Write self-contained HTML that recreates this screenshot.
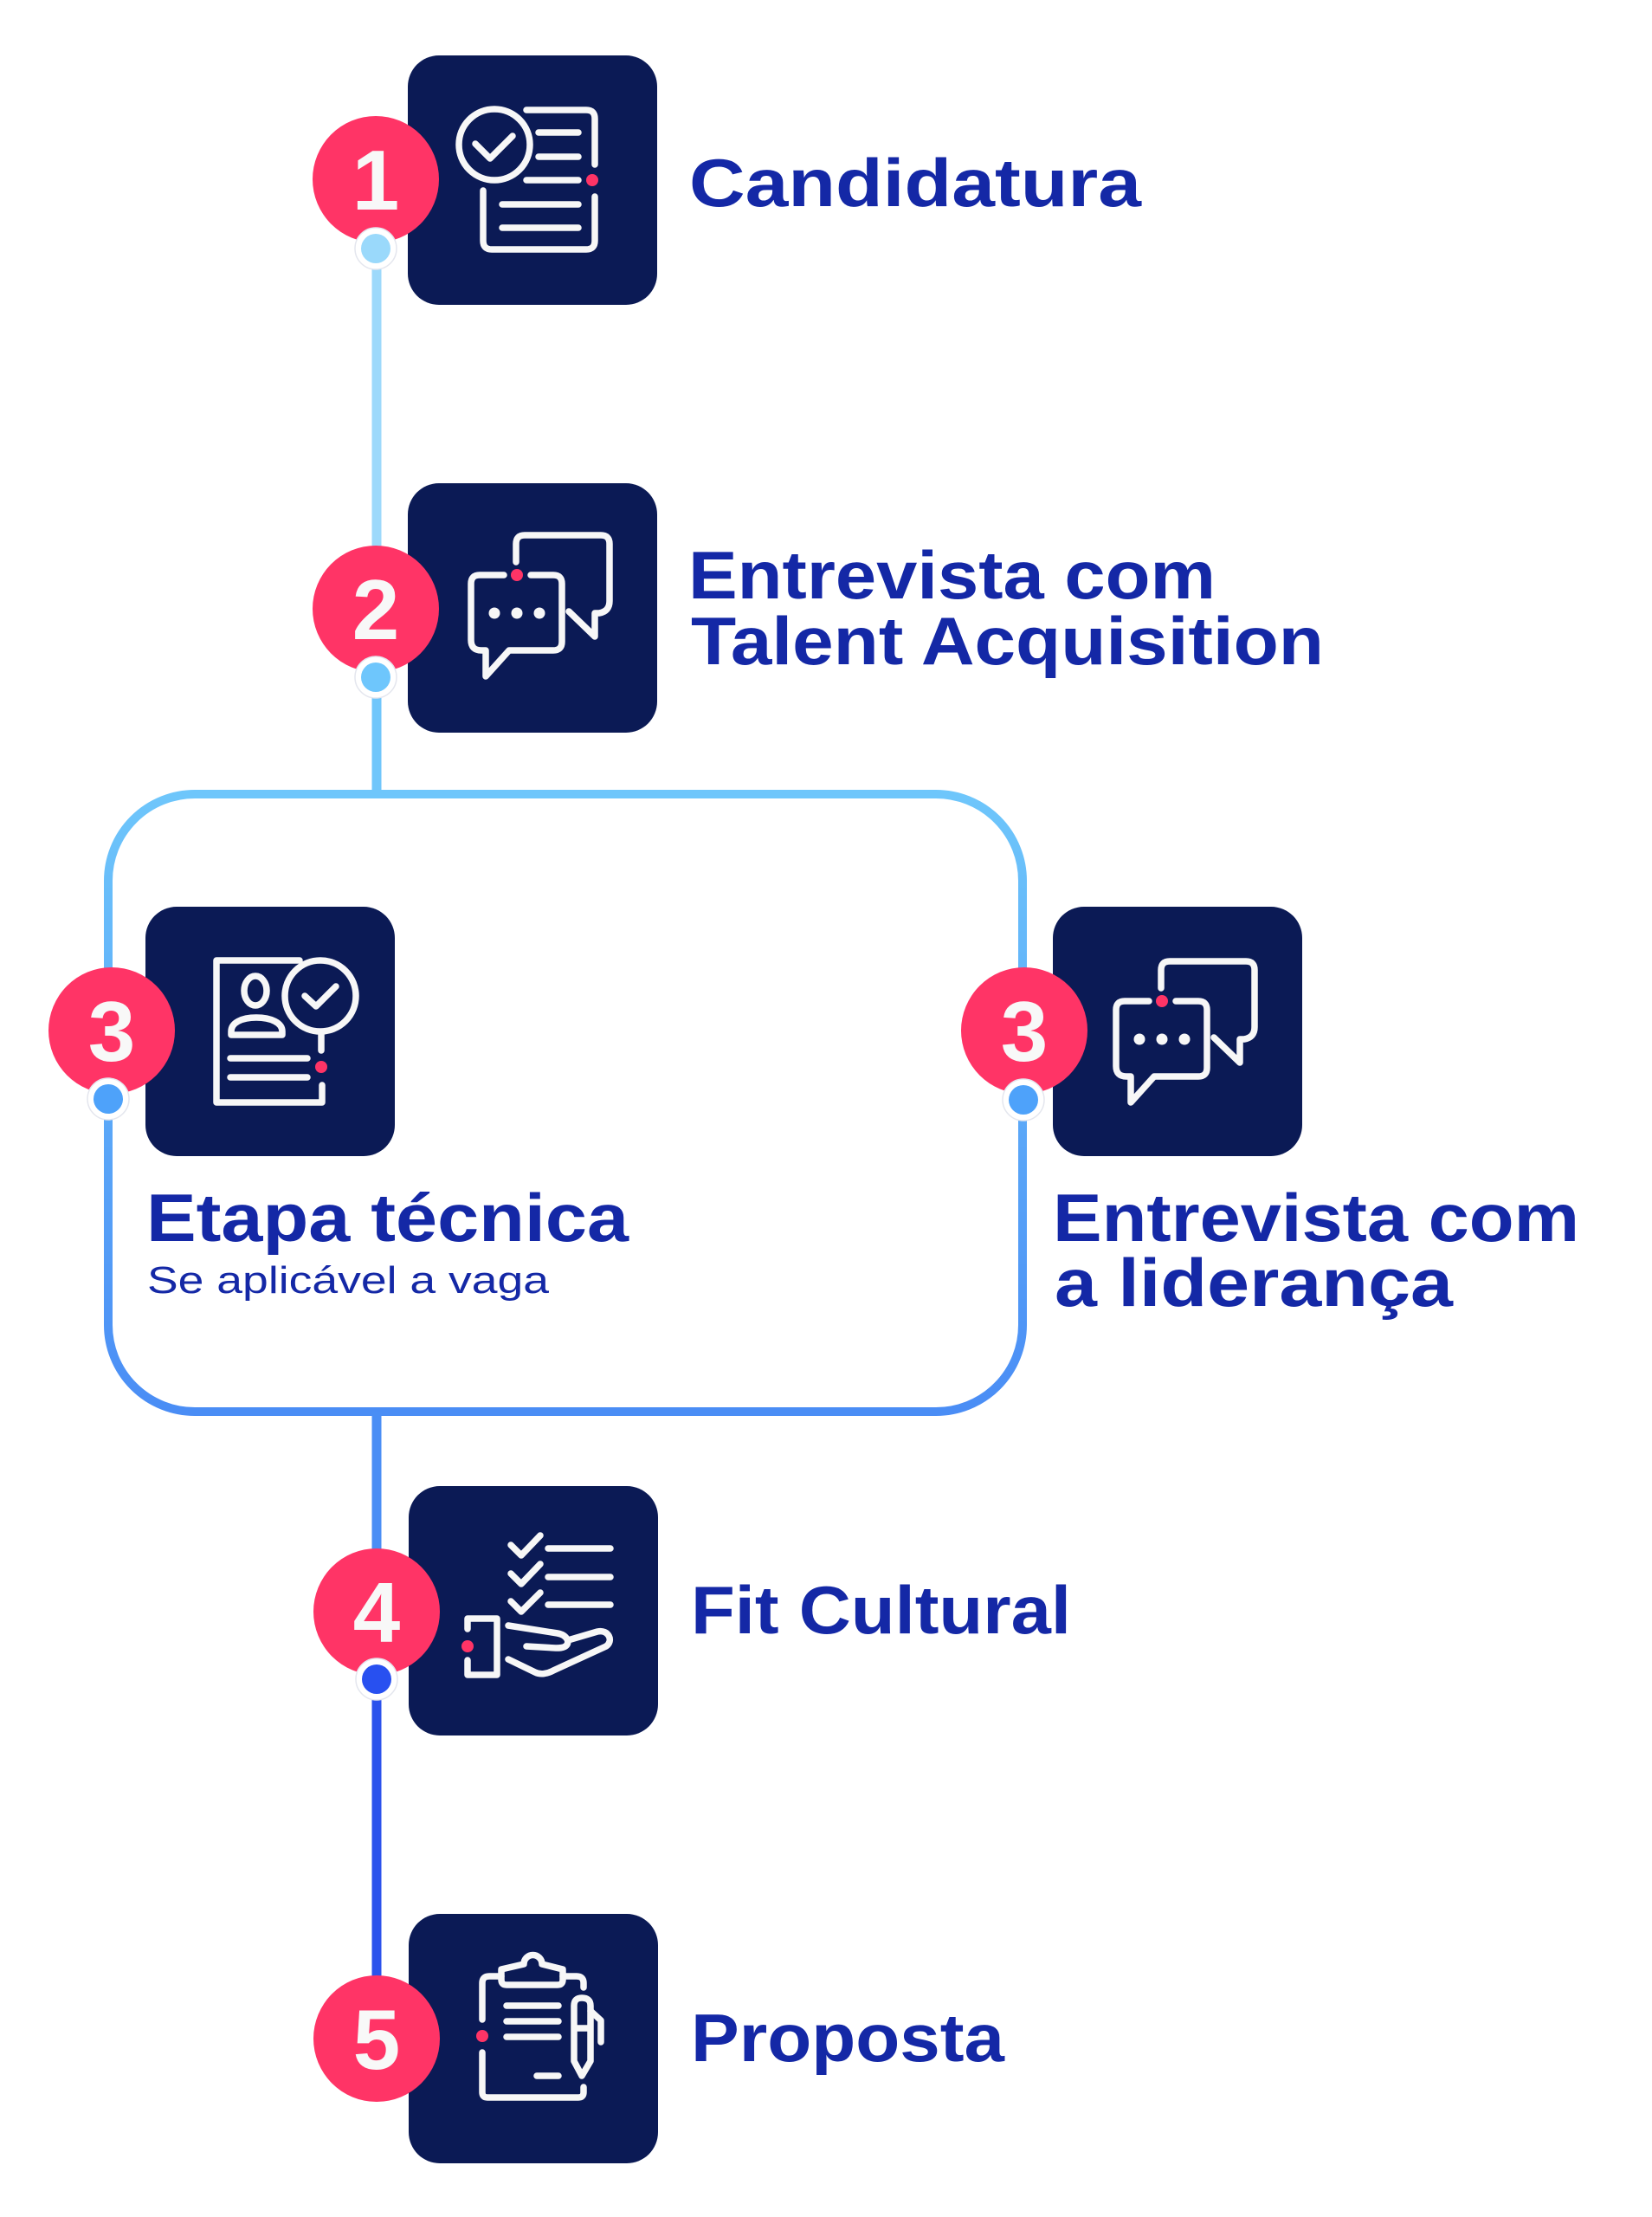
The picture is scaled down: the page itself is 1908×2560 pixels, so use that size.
<!DOCTYPE html>
<html>
<head>
<meta charset="utf-8">
<style>
  html, body { margin: 0; padding: 0; background: #ffffff; }
  svg { display: block; }
  .t { font-family: "Liberation Sans", Arial, sans-serif; font-weight: 700; fill: #1428a6; font-size: 78px; }
  .s { font-family: "Liberation Sans", Arial, sans-serif; font-weight: 400; fill: #1428a6; font-size: 44px; }
  .n { font-family: "Liberation Sans", Arial, sans-serif; font-weight: 700; fill: #f8f8f8; font-size: 98px; }
  .ic { fill: none; stroke: #f7f7f7; stroke-width: 7.5; stroke-linecap: round; stroke-linejoin: round; }
</style>
</head>
<body>
<svg width="1908" height="2560" viewBox="0 0 1908 2560" xmlns="http://www.w3.org/2000/svg">
  <defs>
    <linearGradient id="fg" gradientUnits="userSpaceOnUse" x1="0" y1="917" x2="0" y2="1630">
      <stop offset="0" stop-color="#6ec6fb"/>
      <stop offset="1" stop-color="#4a8df5"/>
    </linearGradient>
  </defs>

  <!-- connector lines -->
  <line x1="435" y1="287" x2="435" y2="703" stroke="#9dd9fb" stroke-width="11"/>
  <line x1="435" y1="782" x2="435" y2="917" stroke="#70c6fb" stroke-width="11"/>
  <rect x="125" y="917" width="1056" height="713" rx="100" ry="100" fill="none" stroke="url(#fg)" stroke-width="10"/>
  <line x1="435" y1="1630" x2="435" y2="1861" stroke="#4a8ef5" stroke-width="11"/>
  <line x1="435" y1="1939" x2="435" y2="2354" stroke="#2b52ec" stroke-width="11"/>

  <!-- boxes -->
  <rect x="471" y="64" width="288" height="288" rx="36" fill="#0b1a55"/>
  <rect x="471" y="558" width="288" height="288" rx="36" fill="#0b1a55"/>
  <rect x="168" y="1047" width="288" height="288" rx="36" fill="#0b1a55"/>
  <rect x="1216" y="1047" width="288" height="288" rx="36" fill="#0b1a55"/>
  <rect x="472" y="1716" width="288" height="288" rx="36" fill="#0b1a55"/>
  <rect x="472" y="2210" width="288" height="288" rx="36" fill="#0b1a55"/>

  <!-- Icon 1: Candidatura -->
  <g transform="translate(471,64)">
    <circle class="ic" cx="100" cy="103" r="41"/>
    <path class="ic" d="M78,102 L95,119 L121,93"/>
    <path class="ic" d="M137,63 L206,63 Q216,63 216,73 L216,126"/>
    <path class="ic" d="M216,163 L216,214 Q216,224 206,224 L97,224 Q87,224 87,214 L87,156"/>
    <path class="ic" d="M151,89 L197,89 M151,117 L197,117 M137,144 L197,144 M109,172 L197,172 M109,199 L197,199"/>
    <circle cx="213" cy="144" r="7" fill="#ff3466"/>
  </g>

  <!-- Icon 2: chat -->
  <g transform="translate(471,558)">
    <path class="ic" d="M125,91 L125,70 Q125,60 135,60 L223,60 Q233,60 233,70 L233,136 Q233,148 221,150 L216,150 L216,177 L186,148"/>
    <path class="ic" d="M111,106 L83,106 Q73,106 73,116 L73,181 Q73,193 85,193 L90,193 L90,223 L117,193 L168,193 Q178,193 178,183 L178,116 Q178,106 168,106 L142,106"/>
    <circle cx="126" cy="106" r="7" fill="#ff3466"/>
    <circle cx="100" cy="150" r="6.5" fill="#f7f7f7"/>
    <circle cx="126" cy="150" r="6.5" fill="#f7f7f7"/>
    <circle cx="152" cy="150" r="6.5" fill="#f7f7f7"/>
  </g>

  <!-- Icon 3a: etapa tecnica -->
  <g transform="translate(168,1047)">
    <path class="ic" d="M178,62 L82,62 L82,226 L204,226 L204,206"/>
    <circle class="ic" cx="202" cy="103" r="41"/>
    <path class="ic" d="M203,145 L203,166"/>
    <path class="ic" d="M184,103 L197,115 L220,92"/>
    <ellipse class="ic" cx="127" cy="97" rx="13" ry="17"/>
    <path class="ic" d="M99,148 L99,144 C99,134 111,128 128,128 C145,128 158,134 158,144 L158,148 Z"/>
    <path class="ic" d="M98,175 L187,175 M98,197 L187,197"/>
    <circle cx="203" cy="185" r="7" fill="#ff3466"/>
  </g>

  <!-- Icon 3b: chat -->
  <g transform="translate(1216,1050)">
    <path class="ic" d="M125,91 L125,70 Q125,60 135,60 L223,60 Q233,60 233,70 L233,136 Q233,148 221,150 L216,150 L216,177 L186,148"/>
    <path class="ic" d="M111,106 L83,106 Q73,106 73,116 L73,181 Q73,193 85,193 L90,193 L90,223 L117,193 L168,193 Q178,193 178,183 L178,116 Q178,106 168,106 L142,106"/>
    <circle cx="126" cy="106" r="7" fill="#ff3466"/>
    <circle cx="100" cy="150" r="6.5" fill="#f7f7f7"/>
    <circle cx="126" cy="150" r="6.5" fill="#f7f7f7"/>
    <circle cx="152" cy="150" r="6.5" fill="#f7f7f7"/>
  </g>

  <!-- Icon 4: fit cultural -->
  <g transform="translate(472,1716)">
    <path class="ic" d="M118,68 L130,80 L152,57 M118,101 L130,113 L152,90 M118,133 L130,145 L152,123"/>
    <path class="ic" d="M161,72 L233,72 M161,105 L233,105 M161,137 L233,137"/>
    <path class="ic" d="M68,165 L68,153 L102,153 L102,218 L68,218 L68,201"/>
    <circle cx="68" cy="185" r="7" fill="#ff3466"/>
    <path class="ic" d="M115,161 L172,170 C183,172 187,181 181,185 C178,187 174,187 170,187 L136,185"/>
    <path class="ic" d="M184,178 L218,168 C231,165 237,179 228,185 L167,213 C160,217 152,218 146,215 L115,200"/>
  </g>

  <!-- Icon 5: proposta -->
  <g transform="translate(472,2210)">
    <path class="ic" d="M85,122 L85,80 Q85,72 93,72 L107,72"/>
    <path class="ic" d="M178,72 L194,72 Q202,72 202,80 L202,85"/>
    <path class="ic" d="M85,160 L85,206 Q85,212 91,212 L196,212 Q202,212 202,206 L202,200"/>
    <path class="ic" d="M107,64 L107,76 Q107,82 113,82 L172,82 Q178,82 178,76 L178,64 L154,58 A10,10 0 1 0 133,58 Z"/>
    <path class="ic" d="M113,106 L173,106 M113,124 L173,124 M113,142 L173,142 M148,187 L173,187"/>
    <path class="ic" d="M191,170 L191,106 Q191,97 200,97 Q210,97 210,106 L210,170 L200,187 Z M191,132 L210,132"/>
    <path class="ic" d="M210,112 L222,123 L222,148"/>
    <circle cx="85" cy="141" r="7" fill="#ff3466"/>
  </g>

  <!-- badges -->
  <circle cx="434" cy="207" r="73" fill="#ff3466"/>
  <circle cx="434" cy="703" r="73" fill="#ff3466"/>
  <circle cx="129" cy="1190" r="73" fill="#ff3466"/>
  <circle cx="1183" cy="1190" r="73" fill="#ff3466"/>
  <circle cx="435" cy="1861" r="73" fill="#ff3466"/>
  <circle cx="435" cy="2354" r="73" fill="#ff3466"/>

  <text class="n" x="434" y="242" text-anchor="middle">1</text>
  <text class="n" x="434" y="738" text-anchor="middle">2</text>
  <text class="n" x="129" y="1225" text-anchor="middle">3</text>
  <text class="n" x="1183" y="1225" text-anchor="middle">3</text>
  <text class="n" x="435" y="1896" text-anchor="middle">4</text>
  <text class="n" x="435" y="2389" text-anchor="middle">5</text>

  <!-- dots -->
  <g stroke="#e4e6ee" stroke-width="1.5">
    <circle cx="434" cy="287" r="24" fill="#ffffff"/>
    <circle cx="434" cy="782" r="24" fill="#ffffff"/>
    <circle cx="125" cy="1269" r="24" fill="#ffffff"/>
    <circle cx="1182" cy="1270" r="24" fill="#ffffff"/>
    <circle cx="435" cy="1939" r="24" fill="#ffffff"/>
  </g>
  <circle cx="434" cy="287" r="17" fill="#9ad9fb"/>
  <circle cx="434" cy="782" r="17" fill="#6ec6fc"/>
  <circle cx="125" cy="1269" r="17" fill="#4ea2fa"/>
  <circle cx="1182" cy="1270" r="17" fill="#4ea2fa"/>
  <circle cx="435" cy="1939" r="17" fill="#2850f0"/>

  <!-- labels -->
  <text class="t" x="796" y="238" textLength="522" lengthAdjust="spacingAndGlyphs">Candidatura</text>
  <text class="t" x="795" y="691" textLength="609" lengthAdjust="spacingAndGlyphs">Entrevista com</text>
  <text class="t" x="798" y="767" textLength="731" lengthAdjust="spacingAndGlyphs">Talent Acquisition</text>
  <text class="t" x="169" y="1433" textLength="557" lengthAdjust="spacingAndGlyphs">Etapa técnica</text>
  <text class="s" x="170" y="1493" textLength="464" lengthAdjust="spacingAndGlyphs">Se aplicável a vaga</text>
  <text class="t" x="1216" y="1433" textLength="608" lengthAdjust="spacingAndGlyphs">Entrevista com</text>
  <text class="t" x="1218" y="1508" textLength="460" lengthAdjust="spacingAndGlyphs">a liderança</text>
  <text class="t" x="798" y="1886" textLength="439" lengthAdjust="spacingAndGlyphs">Fit Cultural</text>
  <text class="t" x="798" y="2380" textLength="362" lengthAdjust="spacingAndGlyphs">Proposta</text>
</svg>
</body>
</html>
